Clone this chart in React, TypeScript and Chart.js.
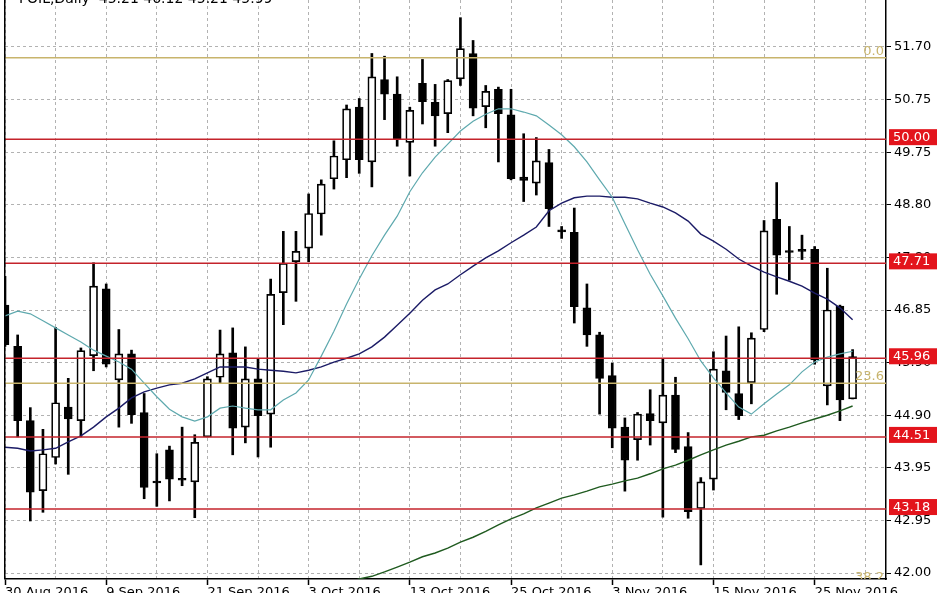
import React, { useEffect, useRef } from 'react';
import { Chart, registerables } from 'chart.js';

Chart.register(...registerables);

// ---- data ----
const titleText = 'FOIL,Daily  45.21 46.12 45.21 45.99';
const dateLabels = ['30 Aug 2016', '9 Sep 2016', '21 Sep 2016', '3 Oct 2016', '13 Oct 2016', '25 Oct 2016', '3 Nov 2016', '15 Nov 2016', '25 Nov 2016'];

const opens = [46.94, 46.18, 44.81, 43.52, 44.13, 45.06, 44.81, 46.01, 47.24, 45.56, 46.04, 44.96, 43.69, 44.27, 43.73, 43.68, 44.51, 45.61, 46.06, 44.69, 45.58, 44.93, 47.17, 47.74, 47.99, 48.62, 49.27, 49.62, 50.59, 49.58, 51.10, 50.83, 49.94, 51.03, 50.68, 50.47, 51.11, 51.58, 50.60, 50.92, 50.45, 49.30, 49.19, 49.57, 48.31, 48.28, 46.89, 46.39, 45.64, 44.69, 44.46, 44.94, 44.77, 45.28, 44.33, 43.19, 43.73, 45.73, 45.31, 45.51, 46.49, 48.52, 47.93, 47.95, 47.97, 45.45, 46.92, 45.21];
const highs = [47.47, 46.39, 45.05, 44.65, 46.53, 45.59, 46.15, 47.72, 47.33, 46.49, 46.11, 45.31, 44.20, 44.34, 44.69, 44.55, 45.62, 46.48, 46.52, 46.17, 45.95, 47.42, 48.30, 48.30, 48.99, 49.25, 49.97, 50.63, 50.75, 51.58, 51.53, 51.15, 50.59, 51.47, 51.01, 51.10, 52.24, 51.82, 50.99, 50.96, 50.92, 50.10, 50.03, 49.81, 48.39, 48.73, 47.33, 46.44, 45.87, 44.86, 44.96, 45.38, 45.94, 45.61, 44.59, 43.76, 46.08, 46.37, 46.54, 46.43, 48.50, 49.20, 48.39, 48.23, 48.02, 47.62, 46.94, 46.12];
const lows = [46.18, 44.51, 42.96, 43.12, 44.01, 43.82, 44.51, 45.73, 45.80, 44.69, 44.76, 43.37, 43.23, 43.33, 43.61, 43.02, 44.51, 45.50, 44.18, 44.40, 44.14, 44.32, 46.58, 47.01, 47.74, 48.23, 49.08, 49.29, 49.37, 49.12, 50.36, 49.87, 49.32, 50.28, 49.87, 50.12, 50.99, 50.43, 50.21, 49.58, 49.25, 48.85, 48.97, 48.39, 48.17, 46.61, 46.18, 44.93, 44.31, 43.51, 44.08, 44.36, 43.03, 44.22, 43.01, 42.15, 43.53, 45.01, 44.83, 45.12, 46.45, 47.14, 47.40, 47.78, 45.85, 45.10, 44.81, 45.21];
const closes = [46.21, 44.81, 43.49, 44.20, 45.14, 44.84, 46.10, 47.29, 45.85, 46.04, 44.92, 43.58, 43.66, 43.73, 43.71, 44.41, 45.58, 46.04, 44.67, 45.58, 44.90, 47.14, 47.71, 47.93, 48.63, 49.17, 49.69, 50.56, 49.62, 51.15, 50.83, 50.01, 50.53, 50.69, 50.43, 51.08, 51.67, 50.57, 50.88, 50.47, 49.27, 49.24, 49.60, 48.72, 48.29, 46.91, 46.39, 45.59, 44.67, 44.08, 44.93, 44.81, 45.28, 44.28, 43.13, 43.68, 45.76, 45.33, 44.90, 46.33, 48.31, 47.86, 47.91, 47.93, 45.93, 46.85, 45.19, 45.99];

const maFast = [46.74, 46.83, 46.78, 46.65, 46.52, 46.39, 46.26, 46.11, 46.00, 45.89, 45.76, 45.50, 45.25, 45.02, 44.88, 44.80, 44.88, 45.04, 45.08, 45.04, 45.01, 45.01, 45.19, 45.32, 45.56, 46.00, 46.46, 46.96, 47.42, 47.85, 48.23, 48.58, 49.03, 49.38, 49.67, 49.91, 50.15, 50.33, 50.46, 50.56, 50.56, 50.50, 50.43, 50.26, 50.08, 49.86, 49.58, 49.25, 48.93, 48.44, 47.96, 47.51, 47.11, 46.70, 46.32, 45.91, 45.60, 45.32, 45.06, 44.93, 45.12, 45.30, 45.47, 45.71, 45.89, 45.98, 46.04, 46.09];
const maSlow = [44.32, 44.30, 44.25, 44.27, 44.30, 44.42, 44.53, 44.69, 44.88, 45.04, 45.23, 45.34, 45.41, 45.47, 45.50, 45.58, 45.69, 45.80, 45.80, 45.80, 45.76, 45.74, 45.72, 45.69, 45.74, 45.80, 45.89, 45.96, 46.04, 46.17, 46.35, 46.57, 46.79, 47.03, 47.22, 47.33, 47.50, 47.66, 47.81, 47.94, 48.09, 48.23, 48.38, 48.68, 48.82, 48.92, 48.95, 48.95, 48.93, 48.93, 48.90, 48.82, 48.75, 48.64, 48.49, 48.25, 48.12, 47.97, 47.79, 47.66, 47.55, 47.46, 47.38, 47.29, 47.16, 47.05, 46.89, 46.67];
const maLongStart = 26;
const maLong = [41.74, 41.82, 41.89, 41.94, 42.02, 42.11, 42.20, 42.30, 42.37, 42.46, 42.57, 42.66, 42.77, 42.89, 43.00, 43.09, 43.20, 43.29, 43.38, 43.44, 43.51, 43.59, 43.64, 43.70, 43.75, 43.83, 43.92, 43.99, 44.08, 44.18, 44.27, 44.36, 44.43, 44.51, 44.54, 44.62, 44.69, 44.77, 44.84, 44.91, 44.99, 45.08];

const yTickValues = [42.0, 42.97, 43.94, 44.91, 45.88, 46.85, 47.82, 48.79, 49.76, 50.73, 51.7];
const yTickLabels = ['42.00', '42.95', '43.95', '44.90', '45.90', '46.85', '47.80', '48.80', '49.75', '50.75', '51.70'];

const levelValues = [50.0, 47.71, 45.96, 44.51, 43.18];
const levelLabels = ['50.00', '47.71', '45.96', '44.51', '43.18'];
const fibValues = [51.5, 45.5, 41.8];
const fibLabels = ['0.0', '23.6', '38.2'];

// ---- view ----
const X_MIN = 0;
const X_MAX = 69.64;
const Y_MIN = 41.89;
const Y_MAX = 52.566;

const FONT = 'DejaVu Sans';
const RED_LINE = '#c4232b';
const RED_BOX = '#e3141c';
const GOLD = '#c8b46c';
const GRID = '#b2b2b2';

export default function App() {
  const ref = useRef<HTMLCanvasElement | null>(null);

  useEffect(() => {
    const canvas = ref.current;
    if (!canvas) return;

    const idx = opens.map((_, i) => i);
    const bodies = idx.map((i) => ({ x: i, y: [opens[i], closes[i]] }));
    const wicks = idx.map((i) => ({ x: i, y: [lows[i], highs[i]] }));
    const bodyFill = idx.map((i) => (closes[i] >= opens[i] ? '#ffffff' : '#000000'));

    const levelSets: any[] = levelValues.map((v) => ({
      type: 'line',
      data: [{ x: X_MIN, y: v }, { x: X_MAX, y: v }],
      borderColor: RED_LINE,
      borderWidth: 1.5,
      pointRadius: 0,
      fill: false,
      order: 0,
      clip: 0,
    }));
    const fibSets: any[] = fibValues.map((v) => ({
      type: 'line',
      data: [{ x: X_MIN, y: v }, { x: X_MAX, y: v }],
      borderColor: GOLD,
      borderWidth: 1.5,
      pointRadius: 0,
      fill: false,
      order: 0,
      clip: 0,
    }));

    const overlay = {
      id: 'mt4overlay',
      afterDatasetsDraw(chart: any) {
        const { ctx, chartArea } = chart;
        const ys = chart.scales.y;
        ctx.save();
        ctx.beginPath();
        ctx.rect(chartArea.left, chartArea.top, chartArea.right - chartArea.left, chartArea.bottom - chartArea.top);
        ctx.clip();
        ctx.font = `13px "${FONT}"`;
        ctx.fillStyle = GOLD;
        ctx.textAlign = 'right';
        ctx.textBaseline = 'alphabetic';
        fibValues.forEach((v, i) => {
          const y = ys.getPixelForValue(v);
          ctx.fillText(fibLabels[i], chartArea.right - 2, y - 3);
        });
        // title
        ctx.font = `14px "${FONT}"`;
        ctx.fillStyle = '#000';
        ctx.textAlign = 'left';
        ctx.fillText(titleText, chartArea.left + 14, 3);
        ctx.restore();
        // left border
        ctx.save();
        ctx.fillStyle = '#000';
        ctx.fillRect(chartArea.left - 1, chartArea.top, 1.5, chartArea.bottom - chartArea.top);
        ctx.restore();
      },
      afterDraw(chart: any) {
        const { ctx, chartArea } = chart;
        const ys = chart.scales.y;
        ctx.save();
        ctx.font = `13px "${FONT}"`;
        ctx.textAlign = 'left';
        ctx.textBaseline = 'middle';
        levelValues.forEach((v, i) => {
          const y = ys.getPixelForValue(v);
          ctx.fillStyle = RED_BOX;
          ctx.fillRect(chartArea.right + 3, y - 10, 48, 16);
          ctx.fillStyle = '#ffffff';
          ctx.fillText(levelLabels[i], chartArea.right + 7, y - 1.5);
        });
        ctx.restore();
      },
    };

    const chart = new Chart(canvas, {
      type: 'bar',
      data: {
        datasets: [
          ...levelSets,
          ...fibSets,
          {
            type: 'line',
            data: idx.map((i) => ({ x: i, y: maFast[i] })),
            borderColor: '#5ea9ae',
            borderWidth: 1.2,
            pointRadius: 0,
            fill: false,
            order: 1,
            clip: 0,
          },
          {
            type: 'line',
            data: idx.map((i) => ({ x: i, y: maSlow[i] })),
            borderColor: '#1b1b66',
            borderWidth: 1.4,
            pointRadius: 0,
            fill: false,
            order: 1,
            clip: 0,
          },
          {
            type: 'line',
            data: maLong.map((v, j) => ({ x: maLongStart + j, y: v })),
            borderColor: '#1f5a1f',
            borderWidth: 1.4,
            pointRadius: 0,
            fill: false,
            order: 1,
            clip: 0,
          },
          {
            type: 'bar',
            data: bodies as any,
            backgroundColor: bodyFill,
            borderColor: '#000000',
            borderWidth: 1.7,
            borderSkipped: false,
            barThickness: 8,
            minBarLength: 2,
            grouped: false,
            order: 2,
            clip: 0,
          },
          {
            type: 'bar',
            data: wicks as any,
            backgroundColor: '#000000',
            borderWidth: 0,
            barThickness: 2,
            grouped: false,
            order: 3,
            clip: 0,
          },
        ] as any,
      },
      options: {
        responsive: false,
        animation: false,
        events: [],
        layout: { padding: { left: 5, right: 0, top: 0, bottom: 0 }, autoPadding: false },
        plugins: { legend: { display: false }, tooltip: { enabled: false } },
        scales: {
          x: {
            type: 'linear',
            position: 'bottom',
            min: X_MIN,
            max: X_MAX,
            offset: false,
            bounds: 'data',
            afterBuildTicks: (s: any) => {
              const t: any[] = [];
              for (let v = 0; v <= 68; v += 4) t.push({ value: v });
              s.ticks = t;
            },
            afterFit: (s: any) => {
              s.height = 21;
              s.paddingLeft = 0;
              s.paddingRight = 0;
              s.paddingTop = 0;
              s.paddingBottom = 0;
            },
            ticks: {
              autoSkip: false,
              maxRotation: 0,
              minRotation: 0,
              align: 'start',
              padding: 0,
              color: '#000',
              font: { family: FONT, size: 13 },
              callback: (v: any) => (Number(v) % 8 === 0 ? dateLabels[Number(v) / 8] : ''),
            },
            grid: {
              offset: false,
              color: GRID,
              lineWidth: 1,
              drawTicks: true,
              tickLength: 6,
              tickWidth: 1.5,
              tickColor: (c: any) => (c.tick && c.tick.value % 8 === 0 ? '#000' : 'rgba(0,0,0,0)'),
            },
            border: { display: true, color: '#000', width: 1.5, dash: [3, 3] },
          },
          y: {
            type: 'linear',
            position: 'right',
            min: Y_MIN,
            max: Y_MAX,
            bounds: 'data',
            afterBuildTicks: (s: any) => {
              s.ticks = yTickValues.map((v) => ({ value: v }));
            },
            afterFit: (s: any) => {
              s.width = 62;
              s.paddingLeft = 0;
              s.paddingRight = 0;
              s.paddingTop = 0;
              s.paddingBottom = 0;
            },
            ticks: {
              autoSkip: false,
              padding: 3,
              color: '#000',
              font: { family: FONT, size: 13 },
              callback: (_v: any, i: number) => yTickLabels[i],
            },
            grid: {
              color: GRID,
              lineWidth: 1,
              tickLength: 5,
              tickWidth: 1,
              tickColor: '#000',
            },
            border: { display: true, color: '#000', width: 1.5, dash: [3, 3] },
          },
        },
      } as any,
      plugins: [overlay],
    });

    return () => chart.destroy();
  }, []);

  return (
    <div style={{ position: 'fixed', left: 0, top: 0, width: 948, height: 600, background: '#ffffff' }}>
      <canvas ref={ref} width={948} height={600} style={{ width: 948, height: 600, display: 'block' }} />
    </div>
  );
}
